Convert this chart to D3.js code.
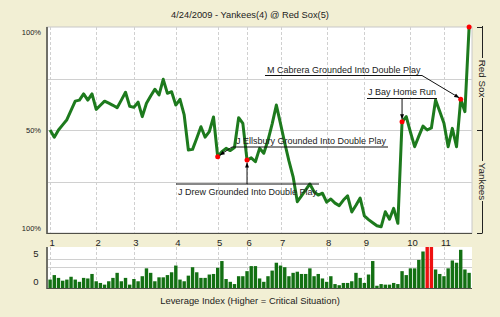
<!DOCTYPE html>
<html>
<head>
<meta charset="utf-8">
<script src="https://cdn.jsdelivr.net/npm/d3@7"></script>
<style>
	body { margin: 0; background: #f2efd4; }
	svg { display: block; font-family: "Liberation Sans", Arial, sans-serif; }
</style>
</head>
<body>
<div id="chart"></div>
<script>
"use strict"

// chart data
var title = "4/24/2009 - Yankees(4) @ Red Sox(5)";
var homeTeam = "Red Sox";
var awayTeam = "Yankees";
var innings = ["1", "2", "3", "4", "5", "6", "7", "8", "9", "10", "11"];
// play index where each inning begins
var inningStart = [0, 11, 20, 30, 40, 47, 55, 66, 75, 86, 94];
var pctTicks = [1, 0.5, 0];
var pctLabels = ["100%", "50%", "100%"];
var levTicks = [5, 0];

// home (Red Sox) win expectancy after each play
var winProb = [
	0.50, 0.465, 0.50, 0.525, 0.55, 0.595, 0.64, 0.645, 0.675, 0.645,
	0.675, 0.60, 0.62, 0.64, 0.63, 0.62, 0.608, 0.645, 0.683, 0.615,
	0.61, 0.635, 0.565, 0.63, 0.665, 0.698, 0.67, 0.746, 0.678, 0.686,
	0.621, 0.649, 0.573, 0.403, 0.406, 0.46, 0.516, 0.465, 0.492, 0.563,
	0.370, 0.395, 0.411, 0.40, 0.415, 0.56, 0.532, 0.354, 0.365, 0.346,
	0.411, 0.387, 0.45, 0.53, 0.621, 0.53, 0.437, 0.35, 0.273, 0.152,
	0.18, 0.209, 0.238, 0.20, 0.184, 0.193, 0.150, 0.165, 0.145, 0.133,
	0.16, 0.180, 0.102, 0.135, 0.170, 0.083, 0.065, 0.05, 0.035, 0.03,
	0.103, 0.067, 0.12, 0.047, 0.540, 0.565, 0.49, 0.419, 0.47, 0.519,
	0.50, 0.51, 0.646, 0.59, 0.533, 0.419, 0.508, 0.419, 0.649, 0.589,
	1.0
];

// leverage index of each play
var leverage = [
	1.5, 2.3, 1.8, 1.3, 1.5, 2.0, 1.5, 1.1, 1.8, 1.7,
	2.5, 1.2, 0.9, 0.6, 1.2, 1.8, 2.7, 1.2, 1.8, 0.6,
	1.6, 1.2, 2.1, 3.5, 2.7, 1.2, 1.9, 1.9, 2.3, 2.8,
	4.0, 1.5, 1.2, 2.2, 3.7, 2.8, 1.8, 1.8, 2.4, 2.5,
	3.6, 4.8, 1.6, 1.1, 0.7, 2.1, 2.1, 3.0, 3.9, 3.9,
	1.7, 1.1, 2.1, 3.1, 4.5, 4.0, 3.7, 2.1, 2.7, 2.9,
	2.5, 2.5, 3.5, 2.1, 2.5, 1.7, 1.1, 2.1, 0.7, 0.5,
	0.9, 0.9, 1.2, 2.7, 1.8, 0.9, 2.4, 4.8, 0.4, 0.7,
	0.6, 0.6, 0.9, 0.7, 3.0, 2.3, 3.5, 3.5, 5.0, 6.5,
	9.0, 9.0, 3.3, 2.5, 2.1, 3.5, 4.9, 4.5, 6.8, 3.3,
	2.7
];

// key plays
var keyPlays = [40, 47, 84, 98, 100];
var notePlay = [98, 84, 40, 47];
var noteText = [
	"M Cabrera Grounded Into Double Play",
	"J Bay Home Run",
	"J Ellsbury Grounded Into Double Play",
	"J Drew Grounded Into Double Play"
];

var W = 500, H = 317;
var plot = {left: 47, top: 27, right: 472, bottom: 233};
var lev = {top: 247, bottom: 288};
var green = "#1d7a1d";

var svg = d3.select("#chart").append("svg")
	.attr("width", W)
	.attr("height", H)
	;
svg.append("rect")
	.attr("width", W).attr("height", H)
	.attr("fill", "#f2efd4")
	;

var N = winProb.length;
var x = d3.scaleLinear().domain([0, N - 1]).range([50.1, 50.1 + 4.19 * (N - 1)]);
var y = d3.scaleLinear().domain([0, 1]).range([plot.bottom, plot.top]);
var yl = d3.scaleLinear().domain([0, 7.3]).range([lev.bottom, lev.top]);

svg.append("defs").append("marker")
	.attr("id", "arr")
	.attr("viewBox", "0 0 10 10")
	.attr("refX", 10).attr("refY", 5)
	.attr("markerWidth", 5).attr("markerHeight", 5)
	.attr("orient", "auto")
	.append("path").attr("d", "M0,1L10,5L0,9Z").attr("fill", "#000")
	;

// title
svg.append("text")
	.attr("x", 250).attr("y", 18)
	.attr("text-anchor", "middle")
	.style("font-size", "9.3px")
	.attr("fill", "#222")
	.text(title)
	;

// main plot
svg.append("rect")
	.attr("x", plot.left).attr("y", plot.top)
	.attr("width", plot.right - plot.left)
	.attr("height", plot.bottom - plot.top)
	.attr("fill", "#fff")
	.attr("stroke", "#c8c8c8")
	;
svg.append("g").selectAll("line")
	.data([0.25, 0.5, 0.75])
	.enter().append("line")
	.attr("x1", plot.left).attr("x2", plot.right)
	.attr("y1", function(d) { return Math.round(y(d)) + 0.5; })
	.attr("y2", function(d) { return Math.round(y(d)) + 0.5; })
	.attr("stroke", "#d0d0d0")
	;
svg.append("g").selectAll("line")
	.data(inningStart)
	.enter().append("line")
	.attr("x1", function(d) { return Math.round(x(d)) + 0.5; })
	.attr("x2", function(d) { return Math.round(x(d)) + 0.5; })
	.attr("y1", plot.top).attr("y2", plot.bottom)
	.attr("stroke", "#d0d0d0")
	.attr("stroke-dasharray", "3,2")
	;
svg.append("line")
	.attr("x1", plot.left).attr("x2", plot.left)
	.attr("y1", plot.top).attr("y2", plot.bottom + 1)
	.attr("stroke", "#707068").attr("stroke-width", 2)
	;
svg.append("line")
	.attr("x1", plot.left).attr("x2", plot.right)
	.attr("y1", plot.bottom + 0.5).attr("y2", plot.bottom + 0.5)
	.attr("stroke", "#505048")
	;

svg.append("g").selectAll("text")
	.data(pctTicks)
	.enter().append("text")
	.attr("x", 41)
	.attr("y", function(d, i) { return i == 0 ? 35 : (i == 2 ? 231 : y(d) + 3); })
	.attr("text-anchor", "end")
	.style("font-size", "7.5px")
	.attr("fill", "#222")
	.text(function(d, i) { return pctLabels[i]; })
	;

// win expectancy line
var line = d3.line()
	.x(function(d, i) { return x(i); })
	.y(function(d) { return y(d); })
	;
svg.append("path")
	.datum(winProb)
	.attr("d", line)
	.attr("fill", "none")
	.attr("stroke", green)
	.attr("stroke-width", 3)
	.attr("stroke-linejoin", "round")
	;
svg.append("g").selectAll("circle")
	.data(keyPlays)
	.enter().append("circle")
	.attr("cx", function(d) { return x(d); })
	.attr("cy", function(d) { return y(winProb[d]); })
	.attr("r", 2.5)
	.attr("fill", "#f00")
	;

// annotations
var gNote = svg.append("g")
	.style("font-size", "9px")
	.attr("fill", "#222")
	;
function noteTo(i, x1, y1, dx, dy) {
	gNote.append("line")
		.attr("x1", x1).attr("y1", y1)
		.attr("x2", x(notePlay[i]) + dx).attr("y2", y(winProb[notePlay[i]]) + dy)
		.attr("stroke", "#111")
		.attr("marker-end", "url(#arr)")
		;
}
// M Cabrera
gNote.append("text").attr("x", 267).attr("y", 73).text(noteText[0]);
gNote.append("line").attr("x1", 265).attr("x2", 422).attr("y1", 75.5).attr("y2", 75.5).attr("stroke", "#111");
noteTo(0, 422, 75.5, -1.5, -1.5);
// J Bay
gNote.append("text").attr("x", 368).attr("y", 95).text(noteText[1]);
gNote.append("line").attr("x1", 367).attr("x2", 437).attr("y1", 98.5).attr("y2", 98.5).attr("stroke", "#111");
noteTo(1, x(notePlay[1]), 98.5, 0, -2.5);
// J Ellsbury
gNote.append("text").attr("x", 236).attr("y", 143.5).text(noteText[2]);
gNote.append("line").attr("x1", 232).attr("x2", 388).attr("y1", 147).attr("y2", 147).attr("stroke", "#111");
noteTo(2, 232, 147, 2, -1.5);
// J Drew
gNote.append("text").attr("x", 178).attr("y", 195).text(noteText[3]);
gNote.append("line").attr("x1", 176).attr("x2", 319).attr("y1", 184).attr("y2", 184).attr("stroke", "#111");
noteTo(3, x(notePlay[3]), 184, 0, 2.5);

// team bracket on the right
var gTeam = svg.append("g").attr("stroke", "#222");
gTeam.append("line").attr("x1", 482.5).attr("x2", 482.5).attr("y1", 26).attr("y2", 58);
gTeam.append("line").attr("x1", 482.5).attr("x2", 482.5).attr("y1", 98).attr("y2", 161);
gTeam.append("line").attr("x1", 482.5).attr("x2", 482.5).attr("y1", 201).attr("y2", 233);
gTeam.selectAll("line.t")
	.data(pctTicks)
	.enter().append("line")
	.attr("x1", 477).attr("x2", 482.5)
	.attr("y1", function(d) { return Math.round(y(d)) + 0.5; })
	.attr("y2", function(d) { return Math.round(y(d)) + 0.5; })
	;
svg.append("text")
	.attr("transform", "translate(479," + ((y(1) + y(0.5)) / 2) + ") rotate(90)")
	.attr("text-anchor", "middle")
	.style("font-size", "9.8px")
	.attr("fill", "#222")
	.text(homeTeam)
	;
svg.append("text")
	.attr("transform", "translate(479," + ((y(0.5) + y(0)) / 2) + ") rotate(90)")
	.attr("text-anchor", "middle")
	.style("font-size", "9.8px")
	.attr("fill", "#222")
	.text(awayTeam)
	;

// inning labels
svg.append("g").selectAll("text")
	.data(innings)
	.enter().append("text")
	.attr("x", function(d, i) { return x(inningStart[i]) + 2; })
	.attr("y", 246)
	.attr("text-anchor", "middle")
	.style("font-size", "9.5px")
	.attr("fill", "#222")
	.text(function(d) { return d; })
	;

// leverage chart
svg.append("rect")
	.attr("x", plot.left).attr("y", lev.top)
	.attr("width", plot.right - plot.left)
	.attr("height", lev.bottom - lev.top)
	.attr("fill", "#fff")
	;
svg.append("g").selectAll("line")
	.data([3.7, 5.2])
	.enter().append("line")
	.attr("x1", plot.left).attr("x2", plot.right)
	.attr("y1", function(d) { return Math.round(yl(d)) + 0.5; })
	.attr("y2", function(d) { return Math.round(yl(d)) + 0.5; })
	.attr("stroke", "#d0d0d0")
	;
svg.append("g").selectAll("line")
	.data(inningStart)
	.enter().append("line")
	.attr("x1", function(d) { return Math.round(x(d)) + 0.5; })
	.attr("x2", function(d) { return Math.round(x(d)) + 0.5; })
	.attr("y1", lev.top).attr("y2", lev.bottom)
	.attr("stroke", "#d0d0d0")
	.attr("stroke-dasharray", "3,2")
	;
var levMax = yl.domain()[1];
svg.append("g").selectAll("rect")
	.data(leverage)
	.enter().append("rect")
	.attr("x", function(d, i) { return x(i) - 1.7; })
	.attr("width", 3.4)
	.attr("y", function(d) { return yl(Math.min(d, levMax)); })
	.attr("height", function(d) { return lev.bottom - yl(Math.min(d, levMax)); })
	.attr("fill", function(d) { return d > levMax ? "#ee1111" : "#137013"; })
	;
svg.append("line")
	.attr("x1", plot.left).attr("x2", plot.left)
	.attr("y1", lev.top).attr("y2", lev.bottom + 1)
	.attr("stroke", "#707068").attr("stroke-width", 2)
	;
svg.append("line")
	.attr("x1", plot.left).attr("x2", plot.right)
	.attr("y1", lev.bottom + 0.5).attr("y2", lev.bottom + 0.5)
	.attr("stroke", "#505048")
	;
svg.append("g").selectAll("text")
	.data(levTicks)
	.enter().append("text")
	.attr("x", 36)
	.attr("y", function(d) { return yl(d) - 3; })
	.attr("text-anchor", "middle")
	.style("font-size", "9.5px")
	.attr("fill", "#222")
	.text(function(d) { return d; })
	;
svg.append("text")
	.attr("x", 250).attr("y", 304)
	.attr("text-anchor", "middle")
	.style("font-size", "9.4px")
	.attr("fill", "#222")
	.text("Leverage Index (Higher = Critical Situation)")
	;
</script>
</body>
</html>
